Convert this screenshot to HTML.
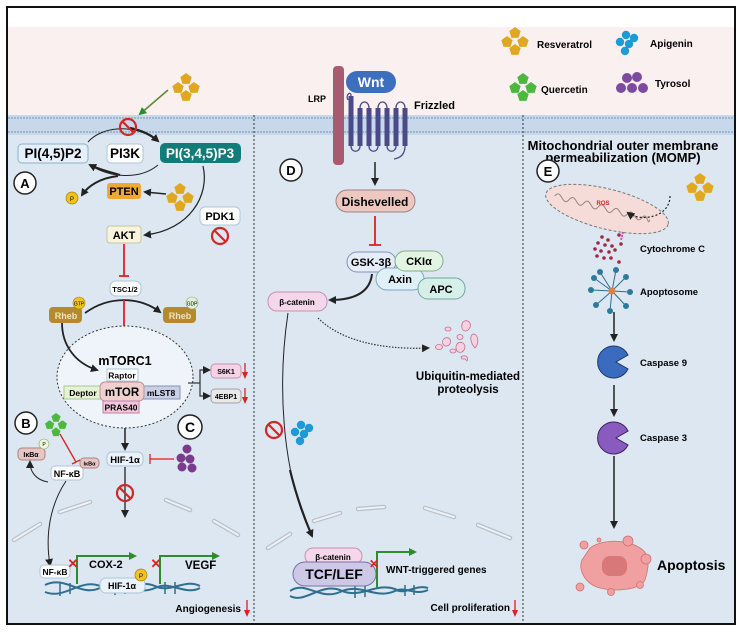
<!DOCTYPE html>
<html><head><meta charset="utf-8"><style>
html,body{margin:0;padding:0;background:#fff;}
svg{display:block;font-family:"Liberation Sans",sans-serif;}
.b{font-weight:bold;}
</style></head><body>
<svg width="742" height="633" viewBox="0 0 742 633" xmlns="http://www.w3.org/2000/svg">
<defs>
<marker id="ah" markerWidth="8" markerHeight="8" refX="6" refY="4" orient="auto" markerUnits="userSpaceOnUse"><path d="M0,0 L8,4 L0,8 z" fill="#222"/></marker>
<marker id="ahg" markerWidth="8" markerHeight="8" refX="6" refY="4" orient="auto" markerUnits="userSpaceOnUse"><path d="M0,0 L8,4 L0,8 z" fill="#2e8b2e"/></marker>
<marker id="ahr" markerWidth="7" markerHeight="6" refX="5" refY="3" orient="auto" markerUnits="userSpaceOnUse"><path d="M0,0 L7,3 L0,6 z" fill="#e02020"/></marker>
<g id="pent"><polygon points="0,-6 5.7,-1.9 3.5,4.9 -3.5,4.9 -5.7,-1.9" fill="#e0a820"/></g>
<g id="pentg"><polygon points="0,-6 5.7,-1.9 3.5,4.9 -3.5,4.9 -5.7,-1.9" fill="#4cb840"/></g>
<g id="res"><use href="#pent" x="0" y="-9"/><use href="#pent" x="-8" y="0"/><use href="#pent" x="8" y="0"/><use href="#pent" x="0" y="8"/></g>
<g id="nos"><circle r="8" fill="none" stroke="#d02828" stroke-width="2.2"/><line x1="-5.5" y1="-5.5" x2="5.5" y2="5.5" stroke="#d02828" stroke-width="2.2"/></g>
<g id="blue"><circle cx="0" cy="-7" r="4.2" fill="#1e9ad6"/><circle cx="8" cy="-4" r="4.2" fill="#1e9ad6"/><circle cx="-6" cy="0" r="4.2" fill="#1e9ad6"/><circle cx="3" cy="2" r="4.2" fill="#1e9ad6"/><circle cx="-1" cy="9" r="4.2" fill="#1e9ad6"/></g>
</defs>
<rect x="7" y="7" width="728" height="617" fill="#dce7f2" stroke="#111" stroke-width="2"/>
<rect x="8" y="8" width="726" height="19" fill="#fff"/>
<rect x="8" y="27" width="726" height="88" fill="#fbf0f0"/>
<rect x="8" y="115" width="726" height="20" fill="#c6d8ea"/>
<line x1="8" y1="118" x2="734" y2="118" stroke="#9fb6cf" stroke-width="2" stroke-dasharray="2,1"/>
<line x1="8" y1="132" x2="734" y2="132" stroke="#9fb6cf" stroke-width="2" stroke-dasharray="2,1"/>
<line x1="254" y1="115" x2="254" y2="623" stroke="#333" stroke-dasharray="2,2"/>
<line x1="523" y1="115" x2="523" y2="623" stroke="#333" stroke-dasharray="2,2"/>

<use href="#res" x="515" y="42"/>
<text x="537" y="48" font-size="10" class="b">Resveratrol</text>
<g transform="translate(523,88)"><use href="#pentg" x="0" y="-9"/><use href="#pentg" x="-8" y="0"/><use href="#pentg" x="8" y="0"/><use href="#pentg" x="0" y="8"/></g>
<text x="541" y="93" font-size="10" class="b">Quercetin</text>
<use href="#blue" x="626" y="42"/>
<text x="650" y="47" font-size="10" class="b">Apigenin</text>
<g fill="#7c4a9e"><circle cx="627" cy="78" r="5"/><circle cx="637" cy="77" r="5"/><circle cx="621" cy="88" r="5"/><circle cx="632" cy="88" r="5"/><circle cx="643" cy="88" r="5"/></g>
<text x="655" y="87" font-size="10" class="b">Tyrosol</text>

<!-- Panel A -->
<use href="#res" x="186" y="88"/>
<line x1="168" y1="90" x2="140" y2="114" stroke="#5a8a30" stroke-width="1.5" marker-end="url(#ahg)"/>
<path d="M88,142 C100,128 130,122 158,140" fill="none" stroke="#222" stroke-width="1"/>
<path d="M130,128 C140,130 150,134 158,141" fill="none" stroke="#222" stroke-width="2.2" marker-end="url(#ah)"/>
<use href="#nos" x="128" y="127"/>
<rect x="18" y="144" width="70" height="19" rx="4" fill="#e6f0fa" stroke="#8ab0cf"/>
<text x="53" y="158" font-size="13.5" class="b" text-anchor="middle">PI(4,5)P2</text>
<rect x="107" y="144" width="36" height="19" rx="4" fill="#fff" stroke="#b0c4d8"/>
<text x="125" y="158" font-size="13.5" class="b" text-anchor="middle">PI3K</text>
<rect x="160" y="143" width="81" height="20" rx="5" fill="#127c7a"/>
<text x="200" y="158" font-size="13.5" class="b" text-anchor="middle" fill="#fff">PI(3,4,5)P3</text>
<path d="M158,165 C140,180 110,178 90,165" fill="none" stroke="#222" stroke-width="1"/>
<path d="M120,175 C110,172 100,170 90,165" fill="none" stroke="#222" stroke-width="2.2" marker-end="url(#ah)"/>
<path d="M118,176 C100,178 88,186 82,195" fill="none" stroke="#222" stroke-width="2" marker-end="url(#ah)"/>
<path d="M203,166 C210,195 190,230 145,235" fill="none" stroke="#222" stroke-width="1.2" marker-end="url(#ah)"/>
<circle cx="25" cy="183" r="11" fill="#fff" stroke="#222" stroke-width="1.5"/>
<text x="25" y="188" font-size="13" class="b" text-anchor="middle">A</text>
<circle cx="72" cy="198" r="6" fill="#f2c21a" stroke="#a08010" stroke-width="0.7"/>
<text x="72" y="201" font-size="6" text-anchor="middle">P</text>
<rect x="107" y="183" width="34" height="16" rx="3" fill="#eda836"/>
<text x="124" y="195" font-size="11" class="b" text-anchor="middle">PTEN</text>
<line x1="166" y1="194" x2="145" y2="192" stroke="#222" stroke-width="1.5" marker-end="url(#ah)"/>
<use href="#res" x="180" y="198"/>
<rect x="200" y="207" width="40" height="18" rx="5" fill="#fff" stroke="#b0c4d8"/>
<text x="220" y="220" font-size="11" class="b" text-anchor="middle">PDK1</text>
<use href="#nos" x="220" y="236"/>
<rect x="107" y="226" width="34" height="17" rx="3" fill="#f8f3dc" stroke="#c8c4a0"/>
<text x="124" y="239" font-size="11" class="b" text-anchor="middle">AKT</text>
<line x1="124" y1="244" x2="124" y2="276" stroke="#e02020" stroke-width="1.8"/>
<line x1="119" y1="276" x2="129" y2="276" stroke="#e02020" stroke-width="1.8"/>
<rect x="110" y="281" width="31" height="15" rx="6" fill="#fff" stroke="#b0c4d8"/>
<text x="125" y="292" font-size="7.5" class="b" text-anchor="middle">TSC1/2</text>
<path d="M85,313 C110,295 140,297 160,312" fill="none" stroke="#222" stroke-width="1.8" marker-end="url(#ah)"/>
<line x1="124" y1="300" x2="124" y2="330" stroke="#e02020" stroke-width="1.8"/>
<line x1="119" y1="330" x2="129" y2="330" stroke="#e02020" stroke-width="1.8"/>
<rect x="49" y="307" width="33" height="16" rx="4" fill="#b58a2e"/>
<text x="66" y="319" font-size="9" class="b" text-anchor="middle" fill="#f2e2b8">Rheb</text>
<circle cx="79" cy="303" r="6" fill="#f2c21a" stroke="#a08010" stroke-width="0.6"/><text x="79" y="305.5" font-size="5" text-anchor="middle">GTP</text>
<rect x="163" y="307" width="33" height="16" rx="4" fill="#b58a2e"/>
<text x="180" y="319" font-size="9" class="b" text-anchor="middle" fill="#f2e2b8">Rheb</text>
<circle cx="192" cy="303" r="6" fill="#dff2d2" stroke="#88a878" stroke-width="0.6"/><text x="192" y="305.5" font-size="5" text-anchor="middle">GDP</text>
<ellipse cx="125" cy="377" rx="68" ry="51" fill="#eef4fa" stroke="#333" stroke-dasharray="2,2"/>
<path d="M62,323 C62,345 75,363 97,370" fill="none" stroke="#222" stroke-width="1.8" marker-end="url(#ah)"/>
<text x="125" y="365" font-size="12.5" class="b" text-anchor="middle">mTORC1</text>
<rect x="107" y="369" width="31" height="12" fill="#fff" stroke="#b0c4d8"/>
<text x="122" y="378.5" font-size="8.5" class="b" text-anchor="middle">Raptor</text>
<rect x="64" y="386" width="38" height="13" fill="#e6f2d6" stroke="#a8c890"/>
<text x="83" y="396" font-size="8.5" class="b" text-anchor="middle">Deptor</text>
<rect x="143" y="386" width="37" height="13" fill="#c9cfe6" stroke="#8890b8"/>
<text x="161" y="396" font-size="8.5" class="b" text-anchor="middle">mLST8</text>
<rect x="100" y="382" width="44" height="19" rx="5" fill="#efd0cf" stroke="#c09090"/>
<text x="122" y="396" font-size="11.5" class="b" text-anchor="middle">mTOR</text>
<rect x="103" y="401" width="36" height="12" fill="#f2c6dc" stroke="#c080a8"/>
<text x="121" y="410.5" font-size="8.5" class="b" text-anchor="middle">PRAS40</text>
<line x1="188" y1="383" x2="200" y2="383" stroke="#333" stroke-width="1.2"/>
<path d="M200,383 V370 H209" fill="none" stroke="#333" stroke-width="1.2" marker-end="url(#ah)"/>
<path d="M200,383 V396 H209" fill="none" stroke="#333" stroke-width="1.2" marker-end="url(#ah)"/>
<rect x="211" y="364" width="30" height="14" rx="4" fill="#f6d2e6" stroke="#c890b0"/>
<text x="226" y="374" font-size="7" class="b" text-anchor="middle">S6K1</text>
<rect x="211" y="389" width="30" height="14" rx="4" fill="#e8e8e8" stroke="#a0a0a0"/>
<text x="226" y="399" font-size="7" class="b" text-anchor="middle">4EBP1</text>
<line x1="245" y1="363" x2="245" y2="377" stroke="#e02020" stroke-width="1.3" marker-end="url(#ahr)"/>
<line x1="245" y1="388" x2="245" y2="402" stroke="#e02020" stroke-width="1.3" marker-end="url(#ahr)"/>
<line x1="125" y1="428" x2="125" y2="449" stroke="#222" stroke-width="1.5" marker-end="url(#ah)"/>
<circle cx="26" cy="423" r="11" fill="#fff" stroke="#222" stroke-width="1.5"/>
<text x="26" y="428" font-size="13" class="b" text-anchor="middle">B</text>
<g transform="translate(56,425) scale(0.8)"><use href="#pentg" x="0" y="-9"/><use href="#pentg" x="-8" y="0"/><use href="#pentg" x="8" y="0"/><use href="#pentg" x="0" y="9"/></g>
<line x1="60" y1="434" x2="76" y2="462" stroke="#e02020" stroke-width="1.3"/>
<line x1="72" y1="464" x2="80" y2="460" stroke="#e02020" stroke-width="1.3"/>
<rect x="18" y="448" width="27" height="12" rx="4" fill="#e8c6c6" stroke="#b08080"/>
<text x="31" y="457" font-size="7" class="b" text-anchor="middle">IκBα</text>
<circle cx="44" cy="444" r="5" fill="#eef8dc" stroke="#90a870" stroke-width="0.6"/><text x="44" y="446" font-size="5" text-anchor="middle">P</text>
<rect x="51" y="466" width="32" height="14" rx="4" fill="#fff" stroke="#b0c4d8"/>
<text x="67" y="477" font-size="9" class="b" text-anchor="middle">NF-κB</text>
<rect x="80" y="458" width="19" height="10" rx="4" fill="#e8c6c6" stroke="#b08080"/>
<text x="89.5" y="465.5" font-size="5.5" class="b" text-anchor="middle">IκBα</text>
<path d="M48,482 C36,480 30,472 30,462" fill="none" stroke="#222" stroke-width="1" marker-end="url(#ah)"/>
<path d="M66,481 C50,505 45,535 50,565" fill="none" stroke="#222" stroke-width="1" marker-end="url(#ah)"/>
<rect x="107" y="452" width="36" height="14" rx="5" fill="#eaf2fa" stroke="#b0c4d8"/>
<text x="125" y="463" font-size="9.5" class="b" text-anchor="middle">HIF-1α</text>
<line x1="150" y1="459" x2="174" y2="459" stroke="#e02020" stroke-width="1.3"/>
<line x1="150" y1="454" x2="150" y2="464" stroke="#e02020" stroke-width="1.3"/>
<circle cx="190" cy="427" r="12" fill="#fff" stroke="#222" stroke-width="1.5"/>
<text x="190" y="432" font-size="14" class="b" text-anchor="middle">C</text>
<g fill="#7c3a8e"><circle cx="187" cy="449" r="4.5"/><circle cx="181" cy="458" r="4.5"/><circle cx="190" cy="459" r="4.5"/><circle cx="182" cy="467" r="4.5"/><circle cx="192" cy="468" r="4.5"/></g>
<line x1="125" y1="467" x2="125" y2="516" stroke="#222" stroke-width="1.3" marker-end="url(#ah)"/>
<use href="#nos" x="125" y="493"/>
<g fill="none" stroke="#b8c0ca" stroke-width="4.5" stroke-linecap="round">
<path d="M14,540 L40,524"/><path d="M60,512 L90,502"/><path d="M166,500 L190,510"/><path d="M214,521 L238,535"/>
<path d="M268,548 L290,534"/><path d="M314,521 L340,513"/><path d="M358,509 L384,507"/><path d="M425,508 L454,517"/><path d="M478,525 L510,538"/>
</g>
<g fill="none" stroke="#eef2f6" stroke-width="2" stroke-linecap="round">
<path d="M14,540 L40,524"/><path d="M60,512 L90,502"/><path d="M166,500 L190,510"/><path d="M214,521 L238,535"/>
<path d="M268,548 L290,534"/><path d="M314,521 L340,513"/><path d="M358,509 L384,507"/><path d="M425,508 L454,517"/><path d="M478,525 L510,538"/>
</g>
<g fill="none" stroke="#2e6e8e" stroke-width="2">
<path d="M45,585 C65,575 80,597 100,588 C120,578 135,597 155,588 C170,580 185,596 200,588"/>
<path d="M45,592 C65,600 80,578 100,586 C120,596 135,578 155,586 C170,594 185,578 200,586"/>
</g>
<g stroke="#2e6e8e" stroke-width="1.5"><line x1="60" y1="582" x2="60" y2="596"/><line x1="70" y1="583" x2="70" y2="594"/><line x1="115" y1="582" x2="115" y2="595"/><line x1="125" y1="582" x2="125" y2="594"/><line x1="165" y1="582" x2="165" y2="594"/><line x1="175" y1="582" x2="175" y2="594"/></g>
<rect x="40" y="565" width="30" height="13" rx="4" fill="#fff" stroke="#b0c4d8"/>
<text x="55" y="575" font-size="8.5" class="b" text-anchor="middle">NF-κB</text>
<path d="M77,584 V556 H135" fill="none" stroke="#2e8b2e" stroke-width="2" marker-end="url(#ahg)"/>
<path d="M160,584 V556 H218" fill="none" stroke="#2e8b2e" stroke-width="2" marker-end="url(#ahg)"/>
<text x="73" y="568" font-size="13" fill="#e02020" class="b" text-anchor="middle">✕</text>
<text x="156" y="568" font-size="13" fill="#e02020" class="b" text-anchor="middle">✕</text>
<text x="89" y="568" font-size="11" class="b">COX-2</text>
<text x="185" y="569" font-size="11.5" class="b">VEGF</text>
<rect x="100" y="578" width="45" height="15" rx="6" fill="#eaf2fa" stroke="#b0c4d8"/>
<text x="122" y="589" font-size="9" class="b" text-anchor="middle">HIF-1α</text>
<circle cx="141" cy="575" r="6" fill="#f2c21a" stroke="#a08010" stroke-width="0.7"/><text x="141" y="578" font-size="6" text-anchor="middle">P</text>
<text x="241" y="612" font-size="10" class="b" text-anchor="end">Angiogenesis</text>
<line x1="247" y1="600" x2="247" y2="615" stroke="#e02020" stroke-width="1.3" marker-end="url(#ahr)"/>

<!-- Panel D -->
<rect x="333" y="66" width="11" height="99" rx="4" fill="#a85a70"/>
<text x="317" y="102" font-size="9" class="b" text-anchor="middle">LRP</text>
<g fill="none" stroke="#4a4a88" stroke-width="5">
<path d="M351,96 V146 M360,146 V108 M369,108 V146 M378,146 V108 M387,108 V146 M396,146 V108 M405,108 V146"/>
</g>
<g fill="none" stroke="#4a4a88" stroke-width="1.3">
<path d="M351,96 C351,90 345,95 348,100"/>
<path d="M351,146 C351,153 360,153 360,146"/><path d="M369,146 C369,153 378,153 378,146"/><path d="M387,146 C387,153 396,153 396,146"/>
<path d="M360,108 C360,100 369,100 369,108"/><path d="M378,108 C378,100 387,100 387,108"/><path d="M396,108 C396,100 405,100 405,108"/>
<path d="M405,146 C405,155 400,158 394,159"/>
</g>
<rect x="346" y="71" width="50" height="22" rx="11" fill="#3d6fc0"/>
<text x="371" y="87" font-size="14" class="b" text-anchor="middle" fill="#fff">Wnt</text>
<text x="414" y="109" font-size="11" class="b">Frizzled</text>
<circle cx="291" cy="170" r="11" fill="#fff" stroke="#222" stroke-width="1.5"/>
<text x="291" y="175" font-size="13" class="b" text-anchor="middle">D</text>
<line x1="375" y1="162" x2="375" y2="184" stroke="#222" stroke-width="1.5" marker-end="url(#ah)"/>
<rect x="336" y="190" width="79" height="22" rx="11" fill="#ecc8c0" stroke="#a08080"/>
<text x="375" y="206" font-size="12" class="b" text-anchor="middle">Dishevelled</text>
<line x1="375" y1="216" x2="375" y2="245" stroke="#e02020" stroke-width="1.8"/>
<line x1="369" y1="245" x2="381" y2="245" stroke="#e02020" stroke-width="1.8"/>
<rect x="347" y="252" width="49" height="20" rx="10" fill="#e6ecf8" stroke="#8090c0"/>
<text x="371" y="266" font-size="11" class="b" text-anchor="middle">GSK-3β</text>
<rect x="376" y="268" width="48" height="22" rx="11" fill="#e0f0f8" stroke="#80a8c0"/>
<text x="400" y="283" font-size="11" class="b" text-anchor="middle">Axin</text>
<rect x="418" y="278" width="47" height="21" rx="10" fill="#d6efe8" stroke="#70a898"/>
<text x="441" y="293" font-size="11" class="b" text-anchor="middle">APC</text>
<rect x="395" y="251" width="48" height="20" rx="10" fill="#e3f4e2" stroke="#80b080"/>
<text x="419" y="265" font-size="11" class="b" text-anchor="middle">CKIα</text>
<rect x="268" y="292" width="59" height="19" rx="9" fill="#f6d6ea" stroke="#c890b0"/>
<text x="297" y="305" font-size="8" class="b" text-anchor="middle">β-catenin</text>
<path d="M372,274 C370,292 355,300 330,300" fill="none" stroke="#222" stroke-width="2" marker-end="url(#ah)"/>
<path d="M318,318 C340,340 380,350 428,348" fill="none" stroke="#333" stroke-width="1.2" stroke-dasharray="1.5,1.5" marker-end="url(#ah)"/>
<g fill="#f8d0e0" stroke="#c07090" stroke-width="0.8">
<path d="M463,322 c5,-4 10,2 6,7 c-4,5 -10,0 -6,-7z"/><ellipse cx="448" cy="329" rx="3" ry="2"/><path d="M445,338 c6,-2 8,6 2,8 c-5,1 -6,-6 -2,-8z"/>
<ellipse cx="460" cy="337" rx="3" ry="2.5"/><path d="M473,334 c6,0 6,10 2,14 c-4,-4 -6,-12 -2,-14z"/><path d="M458,343 c6,-3 10,5 4,9 c-6,2 -8,-6 -4,-9z"/>
<ellipse cx="439" cy="347" rx="3.5" ry="2.5"/><ellipse cx="453" cy="351" rx="3" ry="2"/><path d="M461,357 c4,-3 8,0 6,4 l-2,-2 l-3,0 z"/>
</g>
<text x="468" y="380" font-size="11.5" class="b" text-anchor="middle">Ubiquitin-mediated</text>
<text x="468" y="393" font-size="11.5" class="b" text-anchor="middle">proteolysis</text>
<path d="M288,313 C278,380 280,470 312,536" fill="none" stroke="#222" stroke-width="1" />
<path d="M290,470 C296,495 303,515 312,536" fill="none" stroke="#222" stroke-width="2.2" marker-end="url(#ah)"/>
<use href="#nos" x="274" y="430"/>
<use href="#blue" x="301" y="432"/>
<g fill="none" stroke="#2e6e8e" stroke-width="2">
<path d="M290,591 C305,580 320,601 340,592 C360,582 375,600 395,591 C405,586 415,596 428,590"/>
<path d="M290,596 C305,604 320,583 340,590 C360,600 375,582 395,589 C405,596 415,584 428,588"/>
</g>
<g stroke="#2e6e8e" stroke-width="1.5"><line x1="355" y1="585" x2="355" y2="598"/><line x1="365" y1="585" x2="365" y2="597"/><line x1="405" y1="585" x2="405" y2="596"/><line x1="414" y1="585" x2="414" y2="595"/></g>
<rect x="305" y="548" width="57" height="16" rx="8" fill="#f6d6ea" stroke="#c890b0"/>
<text x="333" y="560" font-size="8" class="b" text-anchor="middle">β-catenin</text>
<rect x="293" y="562" width="83" height="24" rx="12" fill="#cdc8e6" stroke="#7870a8"/>
<text x="334" y="579" font-size="14" class="b" text-anchor="middle">TCF/LEF</text>
<path d="M377,588 V552 H415" fill="none" stroke="#2e8b2e" stroke-width="2" marker-end="url(#ahg)"/>
<text x="374" y="568" font-size="12" fill="#e02020" class="b" text-anchor="middle">✕</text>
<text x="386" y="573" font-size="10" class="b">WNT-triggered genes</text>
<text x="510" y="611" font-size="10" class="b" text-anchor="end">Cell proliferation</text>
<line x1="515" y1="600" x2="515" y2="615" stroke="#e02020" stroke-width="1.3" marker-end="url(#ahr)"/>

<!-- Panel E -->
<text x="623" y="150" font-size="13" class="b" text-anchor="middle">Mitochondrial outer membrane</text>
<text x="623" y="162" font-size="13" class="b" text-anchor="middle">permeabilization (MOMP)</text>
<circle cx="548" cy="171" r="11" fill="#fff" stroke="#222" stroke-width="1.5"/>
<text x="548" y="176" font-size="13" class="b" text-anchor="middle">E</text>
<g transform="rotate(14 607 209)">
<ellipse cx="607" cy="209" rx="63" ry="20" fill="#f5dcd8" stroke="#777" stroke-dasharray="3,2"/>
<path d="M553,209 c5,-10 10,10 15,0 c5,-10 10,10 15,0 c5,-10 10,10 15,0 c5,-10 10,10 15,0 c5,-10 10,10 15,0 c5,-10 10,10 15,0 c4,-8 8,8 8,0" fill="none" stroke="#a08080" stroke-width="1"/>
</g>
<text x="603" y="205" font-size="6" fill="#e02020" class="b" text-anchor="middle">ROS</text>
<path d="M670,196 C670,218 640,222 628,213" fill="none" stroke="#222" stroke-width="1.2" stroke-dasharray="2,2" marker-end="url(#ah)"/>
<use href="#res" x="700" y="188"/>
<line x1="623" y1="232" x2="621" y2="240" stroke="#e040b0" stroke-width="2" stroke-dasharray="2,1"/>
<g fill="#a02840">
<circle cx="602" cy="237" r="1.8"/><circle cx="608" cy="240" r="1.8"/><circle cx="598" cy="243" r="1.8"/><circle cx="605" cy="245" r="1.8"/><circle cx="612" cy="246" r="1.8"/><circle cx="595" cy="249" r="1.8"/><circle cx="601" cy="251" r="1.8"/><circle cx="609" cy="252" r="1.8"/><circle cx="615" cy="250" r="1.8"/><circle cx="597" cy="256" r="1.8"/><circle cx="604" cy="258" r="1.8"/><circle cx="611" cy="258" r="1.8"/><circle cx="619" cy="262" r="1.8"/><circle cx="619" cy="235" r="1.8"/><circle cx="621" cy="244" r="1.8"/>
</g>
<text x="640" y="252" font-size="9.5" class="b">Cytochrome C</text>
<g stroke="#2e6e8e" stroke-width="1"><line x1="612" y1="291" x2="600" y2="272"/><line x1="612" y1="291" x2="616" y2="270"/><line x1="612" y1="291" x2="626" y2="277"/><line x1="612" y1="291" x2="630" y2="292"/><line x1="612" y1="291" x2="626" y2="306"/><line x1="612" y1="291" x2="610" y2="311"/><line x1="612" y1="291" x2="596" y2="305"/><line x1="612" y1="291" x2="591" y2="290"/><line x1="612" y1="291" x2="594" y2="278"/></g>
<g fill="#2e7a9a"><circle cx="600" cy="272" r="3"/><circle cx="616" cy="270" r="3"/><circle cx="626" cy="277" r="3"/><circle cx="630" cy="292" r="3"/><circle cx="626" cy="306" r="3"/><circle cx="610" cy="311" r="3"/><circle cx="596" cy="305" r="3"/><circle cx="591" cy="290" r="3"/><circle cx="594" cy="278" r="3"/></g>
<circle cx="612" cy="291" r="3.5" fill="#e08040"/>
<text x="640" y="295" font-size="9.5" class="b">Apoptosome</text>
<line x1="614" y1="312" x2="614" y2="340" stroke="#222" stroke-width="1.5" marker-end="url(#ah)"/>
<path d="M628,355 A16,16 0 1 0 628,369 L616,362 Z" fill="#3b6bbf" stroke="#1e3a6a" stroke-width="1"/>
<text x="640" y="366" font-size="9.5" class="b">Caspase 9</text>
<line x1="614" y1="385" x2="614" y2="415" stroke="#222" stroke-width="1.5" marker-end="url(#ah)"/>
<path d="M628,431 A16,16 0 1 0 628,445 L616,438 Z" fill="#8a5bbf" stroke="#3a2060" stroke-width="1"/>
<text x="640" y="441" font-size="9.5" class="b">Caspase 3</text>
<line x1="614" y1="456" x2="614" y2="527" stroke="#222" stroke-width="1.5" marker-end="url(#ah)"/>
<g fill="#f0a0a0" stroke="#d07070" stroke-width="0.8">
<path d="M590,548 C600,540 625,538 640,548 C652,555 648,570 645,580 C640,590 615,592 600,588 C585,584 578,570 582,560 Z"/>
<circle cx="584" cy="545" r="4"/><circle cx="628" cy="541" r="5"/><circle cx="646" cy="559" r="5"/><circle cx="580" cy="587" r="4"/><circle cx="611" cy="592" r="3.5"/><circle cx="640" cy="585" r="3.5"/><circle cx="599" cy="540" r="2"/>
</g>
<rect x="602" y="556" width="25" height="20" rx="8" fill="#d87878"/>
<text x="657" y="570" font-size="14" class="b">Apoptosis</text>
</svg>
</body></html>
